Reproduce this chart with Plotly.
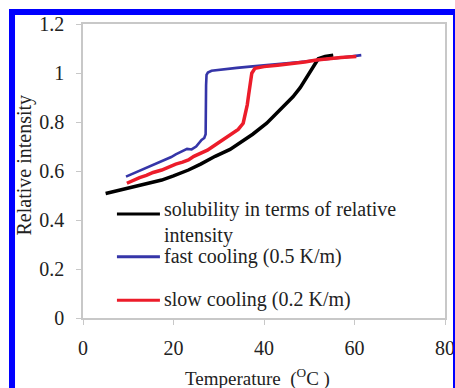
import plotly.graph_objects as go

# ---- data ----
sol_x = [5, 8, 11.5, 14, 17.4, 20, 23.3, 26, 29.2, 32.5, 35, 37.5, 40.6, 43, 45, 46.4, 48, 49.4, 50.5, 51.2, 52, 53.5, 55.3]
sol_y = [0.508, 0.522, 0.536, 0.548, 0.563, 0.58, 0.604, 0.628, 0.66, 0.688, 0.718, 0.75, 0.795, 0.838, 0.876, 0.903, 0.94, 0.982, 1.015, 1.04, 1.058, 1.068, 1.073]

fast_x = [9.5, 10.5, 12, 13.5, 15, 16.5, 17.4, 18.5, 19.5, 20.5, 21.8, 23, 24, 25, 26.2, 26.8, 27.1, 27.1, 27.2, 27.3, 27.6, 28.4, 30, 32, 34, 36.9, 40, 44, 48, 52, 56, 59, 61.5]
fast_y = [0.577, 0.585, 0.595, 0.61, 0.622, 0.632, 0.638, 0.648, 0.657, 0.668, 0.679, 0.69, 0.688, 0.70, 0.727, 0.735, 0.75, 0.85, 0.95, 0.992, 1.002, 1.009, 1.013, 1.018, 1.021, 1.026, 1.031, 1.037, 1.045, 1.053, 1.06, 1.067, 1.073]

slow_x = [9.7, 11, 12.5, 14, 15.5, 17.4, 19, 20.5, 22, 23.3, 24.5, 25.9, 27.5, 29.2, 30.5, 32, 33.2, 34.3, 35.4, 35.9, 36.3, 36.6, 36.9, 37.3, 38, 40, 43, 46, 49, 51.6, 54, 57, 60.4]
slow_y = [0.55, 0.562, 0.573, 0.582, 0.594, 0.604, 0.618, 0.628, 0.636, 0.645, 0.66, 0.672, 0.685, 0.706, 0.722, 0.738, 0.754, 0.77, 0.795, 0.83, 0.87, 0.91, 0.96, 0.999, 1.019, 1.026, 1.032, 1.038, 1.045, 1.053, 1.058, 1.063, 1.067]

series_names = ["solubility in terms of relative<br>intensity", "fast cooling (0.5 K/m)", "slow cooling (0.2 K/m)"]
series_colors = ["#000000", "#3535a8", "#ec1c2a"]
series_widths = [3.5, 2.6, 3.5]
legend_y = [0.4245, 0.25, 0.072]
text_y = [0.388, 0.252, 0.074]

x_ticks = [0, 20, 40, 60, 80]
y_ticks = [0, 0.2, 0.4, 0.6, 0.8, 1, 1.2]

FONT = "Liberation Serif, Times New Roman, serif"

fig = go.Figure()
for xs, ys, c, w in zip([sol_x, fast_x, slow_x], [sol_y, fast_y, slow_y], series_colors, series_widths):
    fig.add_trace(go.Scatter(x=xs, y=ys, mode="lines", line=dict(color=c, width=w, shape="linear"),
                             showlegend=False, hoverinfo="skip"))

shapes = []
annotations = []
# manual legend
for name, c, ly, ty in zip(series_names, series_colors, legend_y, text_y):
    shapes.append(dict(type="line", xref="x", yref="y", x0=7.5, x1=17.0, y0=ly, y1=ly,
                       line=dict(color=c, width=3)))
    annotations.append(dict(xref="x", yref="y", x=17.5, y=ty, text=name, showarrow=False,
                            xanchor="left", yanchor="middle", align="left",
                            font=dict(family=FONT, size=20, color="#222")))

# axis titles
annotations.append(dict(xref="paper", yref="paper", x=-0.162, y=0.52, text="Relative intensity",
                        textangle=-90, showarrow=False, xanchor="center", yanchor="middle",
                        font=dict(family=FONT, size=20, color="#222")))
annotations.append(dict(xref="paper", yref="paper", x=0.483, y=-0.204,
                        text="Temperature  (<sup>O</sup>C )", showarrow=False,
                        xanchor="center", yanchor="middle",
                        font=dict(family=FONT, size=19, color="#222")))

# blue outer border
BLUE = "#0000ff"
for x0, x1, y0, y1 in [(-0.2044, -0.1878, -0.30, 1.051), (-0.2044, 1.04, 1.0306, 1.051), (1.0221, 1.031, -0.30, 1.051)]:
    shapes.append(dict(type="rect", xref="paper", yref="paper", x0=x0, x1=x1, y0=y0, y1=y1,
                       fillcolor=BLUE, line=dict(width=0), layer="above"))

fig.update_layout(
    width=455, height=388,
    margin=dict(l=83, r=10, t=24, b=70, autoexpand=False),
    paper_bgcolor="white", plot_bgcolor="white",
    showlegend=False,
    shapes=shapes, annotations=annotations,
    xaxis=dict(range=[0, 80], tickvals=x_ticks, ticktext=[str(v) for v in x_ticks],
               showgrid=False, zeroline=False, showline=True, mirror=True, automargin=False,
               linecolor="#c8c8c8", linewidth=1.5, ticks="outside", ticklen=5, tickcolor="#c8c8c8",
               tickfont=dict(family=FONT, size=20, color="#222"), ticklabelstandoff=6),
    yaxis=dict(range=[0, 1.2], tickvals=y_ticks, ticktext=["0", "0.2", "0.4", "0.6", "0.8", "1", "1.2"],
               showgrid=False, zeroline=False, showline=True, mirror=True, automargin=False,
               linecolor="#c8c8c8", linewidth=1.5, ticks="outside", ticklen=5, tickcolor="#c8c8c8",
               tickfont=dict(family=FONT, size=20, color="#222"), ticklabelstandoff=8),
)

fig.write_html("out.html")
